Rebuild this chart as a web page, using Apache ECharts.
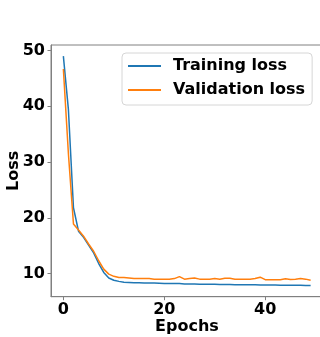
<!DOCTYPE html>
<html>
<head>
<meta charset="utf-8">
<script src="https://cdn.jsdelivr.net/npm/echarts@6/dist/echarts.min.js"></script>
<style>
html,body{margin:0;padding:0;background:#fff;overflow:hidden;}
#c{width:320px;height:337px;}
</style>
</head>
<body>
<div id="c"></div>
<script>
const epochs = Array.from({length: 50}, (_, i) => i);
const trainingLoss = [49.0, 39.4, 21.8, 17.6, 16.5, 15.1, 13.7, 11.8, 10.2, 9.2,
  8.8, 8.6, 8.45, 8.4, 8.35, 8.35, 8.3, 8.3, 8.3, 8.25,
  8.2, 8.2, 8.2, 8.2, 8.15, 8.15, 8.15, 8.1, 8.1, 8.1,
  8.1, 8.05, 8.05, 8.05, 8.0, 8.0, 8.0, 8.0, 8.0, 7.95,
  7.95, 7.95, 7.95, 7.9, 7.9, 7.9, 7.9, 7.9, 7.85, 7.85];
const validationLoss = [46.7, 31.5, 18.9, 17.8, 16.7, 15.3, 14.0, 12.3, 10.8, 9.9,
  9.5, 9.3, 9.3, 9.2, 9.1, 9.1, 9.1, 9.1, 9.0, 9.0,
  9.0, 9.0, 9.1, 9.45, 9.0, 9.1, 9.2, 9.0, 9.0, 9.0,
  9.1, 9.0, 9.15, 9.15, 9.0, 9.0, 9.0, 9.0, 9.1, 9.35,
  8.9, 8.9, 8.9, 8.9, 9.05, 8.95, 9.0, 9.1, 9.0, 8.8];
const xTicks = [0, 20, 40];
const yTicks = [10, 20, 30, 40, 50];
const seriesNames = ['Training loss', 'Validation loss'];

const font = 'DejaVu Sans';
const chart = echarts.init(document.getElementById('c'), null, {renderer: 'canvas'});
chart.setOption({
  animation: false,
  backgroundColor: '#fff',
  grid: {left: 51, top: 45, right: -3, bottom: 40.3, show: true, borderColor: '#808080', borderWidth: 1,
         backgroundColor: 'transparent', outerBoundsMode: 'none', containLabel: false},
  legend: {
    orient: 'vertical', left: 122, top: 53,
    icon: 'rect', itemWidth: 33, itemHeight: 2, itemGap: 8,
    padding: [5, 7, 7, 6],
    backgroundColor: 'rgba(255,255,255,0.8)', borderColor: '#d6d6d6', borderWidth: 1, borderRadius: 4,
    textStyle: {fontFamily: font, fontWeight: 'bold', fontSize: 16, color: '#000', padding: [0, 0, 0, 7], lineHeight: 16},
    data: seriesNames
  },
  xAxis: {
    type: 'value', min: -2.45, max: 51.45,
    name: 'Epochs', nameLocation: 'middle', nameGap: 22.5, nameMoveOverlap: false,
    nameTextStyle: {fontFamily: font, fontWeight: 'bold', fontSize: 16, color: '#000', verticalAlign: 'top'},
    axisLine: {show: true, onZero: false, lineStyle: {color: '#808080', width: 1}},
    axisTick: {show: true, length: 3.5, lineStyle: {color: '#808080'}, customValues: xTicks},
    axisLabel: {fontFamily: font, fontWeight: 'bold', fontSize: 16, color: '#000', margin: 5, customValues: xTicks},
    splitLine: {show: false}
  },
  yAxis: {
    type: 'value', min: 5.85, max: 51.0,
    name: 'Loss', nameLocation: 'middle', nameGap: 29, nameMoveOverlap: false,
    nameTextStyle: {fontFamily: font, fontWeight: 'bold', fontSize: 16, color: '#000'},
    axisLine: {show: true, onZero: false, lineStyle: {color: '#808080', width: 1}},
    axisTick: {show: true, length: 3.5, lineStyle: {color: '#808080'}, customValues: yTicks},
    axisLabel: {fontFamily: font, fontWeight: 'bold', fontSize: 16, color: '#000', margin: 6, customValues: yTicks},
    splitLine: {show: false}
  },
  series: [
    {name: seriesNames[0], type: 'line', symbol: 'none', color: '#1f77b4',
     lineStyle: {width: 1.5, color: '#1f77b4'}, data: epochs.map((e, i) => [e, trainingLoss[i]])},
    {name: seriesNames[1], type: 'line', symbol: 'none', color: '#ff7f0e',
     lineStyle: {width: 1.5, color: '#ff7f0e'}, data: epochs.map((e, i) => [e, validationLoss[i]])}
  ]
});
</script>
</body>
</html>
